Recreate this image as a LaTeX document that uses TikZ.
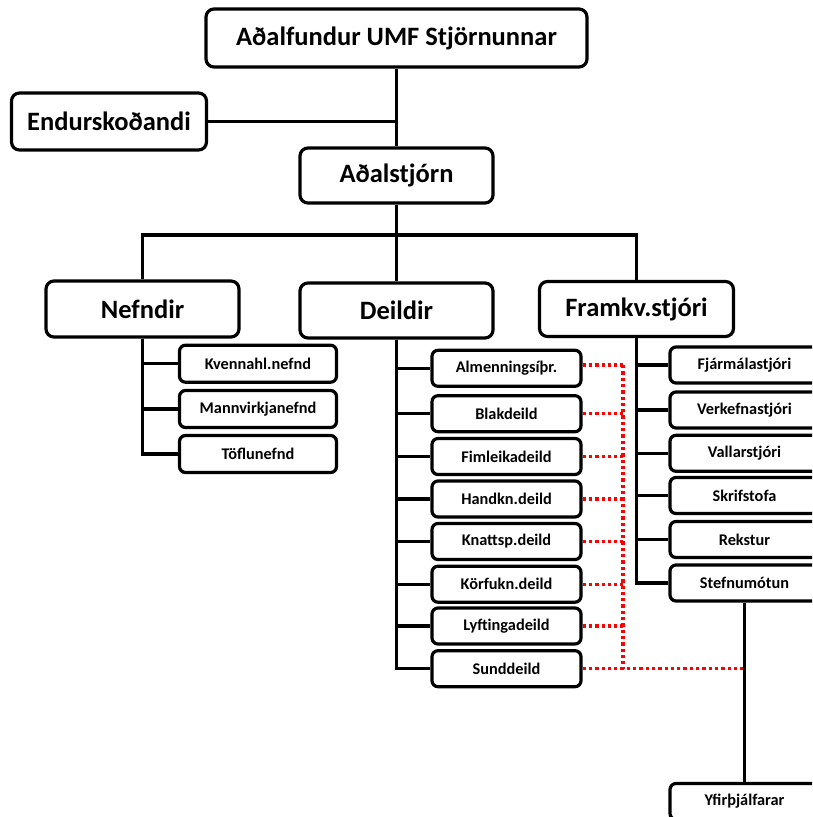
\documentclass[tikz,border=0pt]{standalone}
\usepackage{fontspec}
\setmainfont{Carlito}
\begin{document}
\begin{tikzpicture}[x=1pt,y=-1pt,
  bigbox/.style={draw=black,line width=3.2pt,rounded corners=8pt,fill=white,inner sep=0pt,
    minimum width=193pt,minimum height=56pt,font=\fontsize{26.5}{30}\selectfont\bfseries},
  smallbox/.style={draw=black,line width=3.2pt,rounded corners=6pt,fill=white,inner sep=0pt,
    minimum width=149pt,minimum height=36pt,font=\fontsize{16.3}{19}\selectfont\bfseries},
  conn/.style={draw=black,line width=3.2pt},
  reddot/.style={draw=red,line width=3.4pt,dash pattern=on 3.3pt off 3pt}]
\useasboundingbox (0,0) rectangle (812,817);
\fill[white] (0,0) rectangle (812,817);
\clip (0,0) rectangle (812,817);

% top level
\node[bigbox,minimum width=381pt,minimum height=58pt] (top) at (396.5,38) {Aðalfundur UMF Stjörnunnar};
\node[bigbox,minimum width=195pt,minimum height=57pt] (endur) at (109,121.5) {Endurskoðandi};
\node[bigbox,minimum height=55pt] (adal) at (396.5,175.5) {Aðalstjórn};

\node[bigbox] (nefndir) at (142.5,309) {Nefndir};
\node[bigbox,minimum height=55pt] (deildir) at (396.5,310.5) {Deildir};
\node[bigbox,minimum width=194pt,minimum height=55pt] (framkv) at (636.5,309) {Framkv.stjóri};

% nefndir children
\node[smallbox,minimum width=157pt,minimum height=37pt] (kvenn) at (258,363.7) {Kvennahl.nefnd};
\node[smallbox,minimum width=157pt,minimum height=37pt] (mann) at (258,409) {Mannvirkjanefnd};
\node[smallbox,minimum width=157pt,minimum height=37pt] (tofl) at (258,454) {Töflunefnd};

% deildir children
\node[smallbox] (alm) at (506.5,368.3) {Almenningsíþr.};
\node[smallbox] (blak) at (506.5,413.7) {Blakdeild};
\node[smallbox] (fiml) at (506.5,456.5) {Fimleikadeild};
\node[smallbox] (hand) at (506.5,499) {Handkn.deild};
\node[smallbox] (knatt) at (506.5,541.5) {Knattsp.deild};
\node[smallbox] (korf) at (506.5,584.2) {Körfukn.deild};
\node[smallbox] (lyft) at (506.5,626) {Lyftingadeild};
\node[smallbox] (sund) at (506.5,668.7) {Sunddeild};

% framkv children
\node[smallbox] (fjar) at (744.5,365) {Fjármálastjóri};
\node[smallbox] (verk) at (744.5,410) {Verkefnastjóri};
\node[smallbox] (vall) at (744.5,453.3) {Vallarstjóri};
\node[smallbox] (skrif) at (744.5,495.5) {Skrifstofa};
\node[smallbox] (rekst) at (744.5,539.5) {Rekstur};
\node[smallbox] (stef) at (744.5,583) {Stefnumótun};
\node[smallbox] (yfir) at (744.5,801.5) {Yfirþjálfarar};

% connectors
\coordinate (bus) at (396.5,235);
\draw[conn] (top.south) -- (adal.north);
\draw[conn] (endur.east) -- (endur.east -| top.south);
\draw[conn] (adal.south) -- (deildir.north);
\draw[conn] (nefndir.north) |- (bus) -| (framkv.north);

\draw[conn] (nefndir.south) |- (kvenn.west);
\draw[conn] (nefndir.south) |- (mann.west);
\draw[conn] (nefndir.south) |- (tofl.west);

\foreach \n in {alm,blak,fiml,hand,knatt,korf,lyft,sund}
  \draw[conn] (deildir.south) |- (\n.west);

\foreach \n in {fjar,verk,vall,skrif,rekst,stef}
  \draw[conn] (framkv.south) |- (\n.west);

\draw[conn] (stef.south) -- (yfir.north);

% red dotted links
\coordinate (redtop) at (623,365);
\foreach \n in {blak,fiml,hand,knatt,korf,lyft}
  \draw[reddot] (\n.east) -- (\n.east -| redtop);
\draw[reddot] (alm.east |- redtop) -- (redtop);
\draw[reddot] (redtop) -- (redtop |- sund.east);
\draw[reddot] (sund.east) -- (sund.east -| stef.south);
\end{tikzpicture}
\end{document}
